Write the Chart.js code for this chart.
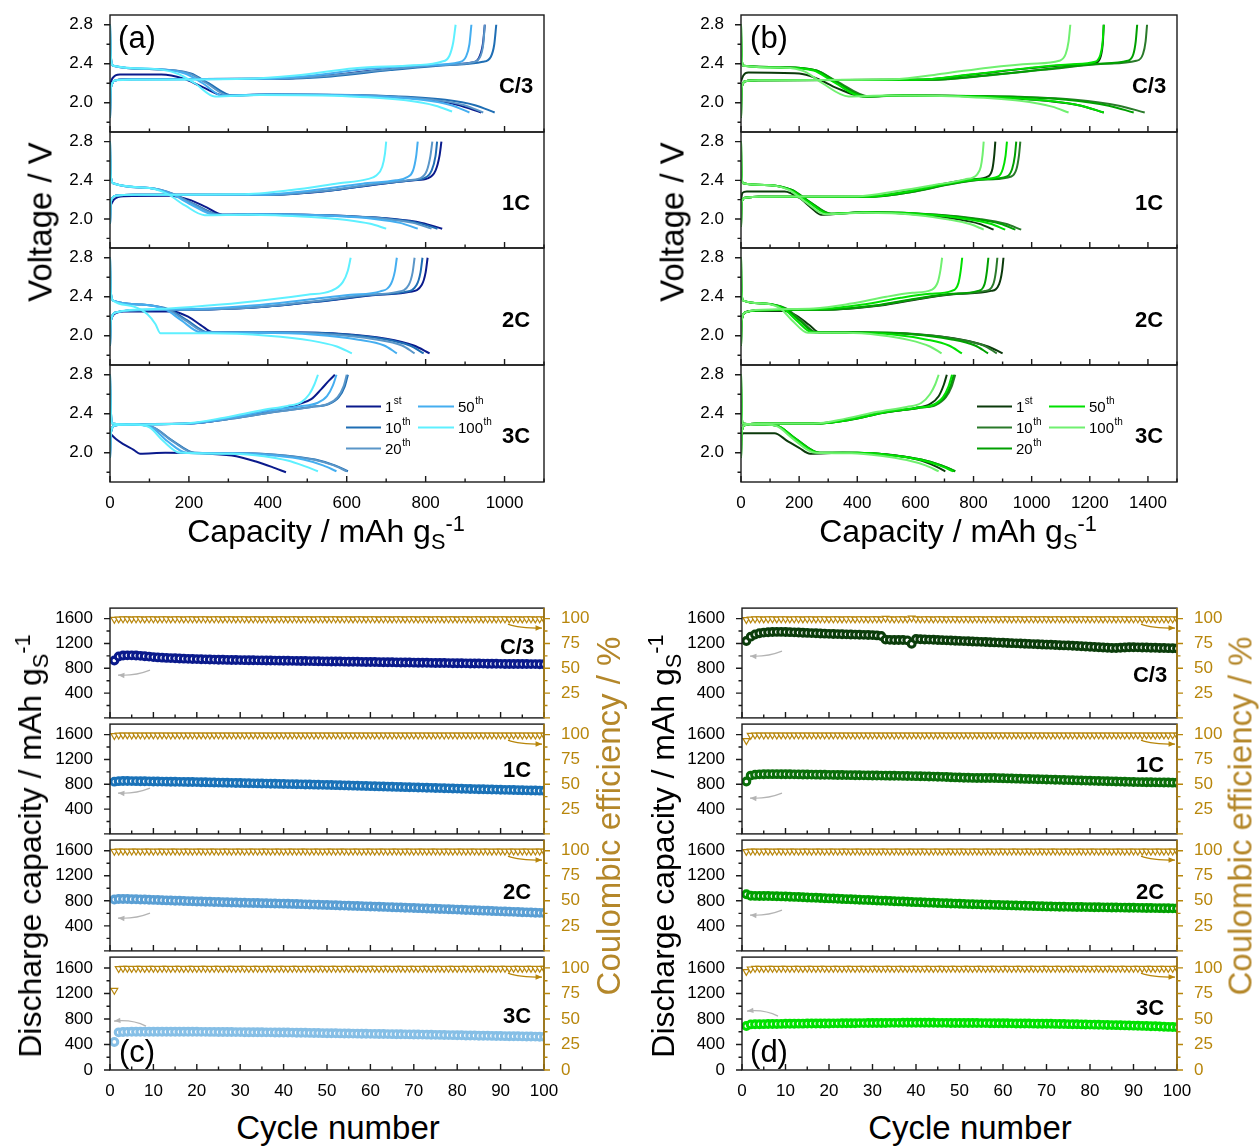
<!DOCTYPE html>
<html>
<head>
<meta charset="utf-8">
<script src="https://cdn.jsdelivr.net/npm/chart.js@4.4.1/dist/chart.umd.min.js"></script>
<style>
body { margin: 0; background: #fff; }
#fig { position: relative; width: 1260px; height: 1147px; overflow: hidden; font-family: Arial, "Liberation Sans", Helvetica, sans-serif; }
#fig canvas { position: absolute; }
.t { position: absolute; white-space: nowrap; color: #000; line-height: 1; transform: translate(-50%, -50%); }
.rot { transform: translate(-50%, -50%) rotate(-90deg); }
.t sub, .t sup { font-size: 0.68em; vertical-align: baseline; position: relative; }
.t sub { top: 0.32em; }
.t sup { top: -0.5em; }
</style>
</head>
<body>
<div id="fig"></div>
<script>
const FONT = 'Arial, "Liberation Sans", Helvetica, sans-serif';
const GOLD = '#b8860b';

// ---- tick values ----
const capTicksA = [0, 200, 400, 600, 800, 1000];
const capMinorA = [100, 300, 500, 700, 900, 1100];
const capTicksB = [0, 200, 400, 600, 800, 1000, 1200, 1400];
const capMinorB = [100, 300, 500, 700, 900, 1100, 1300, 1500];
const voltTicks = [2.0, 2.4, 2.8];
const voltMinor = [1.8, 2.2, 2.6];
const cycleTicks = [0, 10, 20, 30, 40, 50, 60, 70, 80, 90, 100];
const cycleMinor = [5, 15, 25, 35, 45, 55, 65, 75, 85, 95];
const dcTicksUpper = [400, 800, 1200, 1600];
const dcTicksLow = [0, 400, 800, 1200, 1600];
const dcMinor = [200, 600, 1000, 1400];
const ceTicksUpper = [25, 50, 75, 100];
const ceTicksLow = [0, 25, 50, 75, 100];
const ceMinor = [12.5, 37.5, 62.5, 87.5];
const rates = ['C/3', '1C', '2C', '3C'];
const cycleNum = ['1', '10', '20', '50', '100'];
const cycleSuf = ['st', 'th', 'th', 'th', 'th'];

// ---- colours ----
const blues = ['#0a1a8c', '#1f6eb4', '#5a96c8', '#45aef0', '#5ef0ff'];
const greens = ['#0b3a0b', '#2a7a2a', '#00a000', '#00e000', '#70f070'];
const blueRates = ['#0a1a8c', '#1a72b8', '#5a9fd4', '#86bfe6'];
const greenRates = ['#0b3d0b', '#0a6e0a', '#00a000', '#00e000'];

// ---- (a) voltage profiles [capacity, V]; order 1st,10th,20th,50th,100th ----
const aC3Dis = [
  [[0,2.18],[6,2.25],[25,2.29],[130,2.29],[185,2.25],[235,2.16],[290,2.075],[400,2.085],[650,2.07],[800,2.035],[880,1.98],[941,1.9]],
  [[0,2.8],[2,2.48],[8,2.38],[100,2.345],[205,2.3],[250,2.2],[310,2.075],[420,2.085],[700,2.07],[850,2.03],[925,1.975],[975,1.9]],
  [[0,2.8],[2,2.48],[8,2.38],[100,2.345],[200,2.3],[245,2.2],[300,2.075],[410,2.085],[680,2.07],[820,2.03],[898,1.975],[946,1.9]],
  [[0,2.8],[2,2.48],[8,2.38],[100,2.35],[190,2.3],[235,2.2],[285,2.075],[400,2.085],[650,2.07],[790,2.03],[865,1.975],[911,1.9]],
  [[0,2.8],[2,2.48],[8,2.38],[100,2.35],[170,2.3],[215,2.2],[266,2.065],[380,2.08],[610,2.065],[750,2.025],[825,1.97],[867,1.91]]
];
const aC3Chg = [
  [[0,1.85],[2,2.15],[15,2.23],[60,2.24],[400,2.245],[530,2.27],[680,2.335],[820,2.385],[915,2.41],[935,2.46],[945,2.6],[950,2.8]],
  [[0,1.85],[2,2.15],[15,2.23],[60,2.24],[420,2.245],[560,2.27],[710,2.335],[850,2.385],[945,2.42],[965,2.47],[974,2.6],[979,2.8]],
  [[0,1.85],[2,2.15],[15,2.23],[60,2.24],[400,2.245],[530,2.27],[690,2.335],[830,2.385],[920,2.415],[938,2.47],[946,2.6],[950,2.8]],
  [[0,1.85],[2,2.15],[15,2.23],[60,2.24],[380,2.245],[500,2.275],[650,2.345],[800,2.385],[885,2.415],[902,2.47],[911,2.6],[916,2.8]],
  [[0,1.85],[2,2.15],[15,2.23],[60,2.235],[340,2.245],[470,2.28],[620,2.355],[770,2.385],[840,2.42],[860,2.48],[870,2.62],[876,2.8]]
];
const a1CDis = [
  [[0,2.13],[10,2.2],[35,2.235],[150,2.24],[200,2.2],[245,2.12],[285,2.045],[400,2.05],[600,2.03],[720,2.0],[790,1.96],[842,1.9]],
  [[0,2.8],[2,2.45],[8,2.37],[100,2.32],[160,2.26],[215,2.15],[280,2.045],[400,2.05],[600,2.03],[710,2.0],[780,1.96],[830,1.9]],
  [[0,2.8],[2,2.45],[8,2.37],[100,2.32],[160,2.26],[212,2.15],[275,2.045],[390,2.05],[590,2.03],[700,2.0],[768,1.96],[815,1.9]],
  [[0,2.8],[2,2.45],[8,2.37],[100,2.32],[155,2.26],[205,2.15],[265,2.045],[380,2.05],[570,2.03],[670,2.0],[735,1.96],[780,1.9]],
  [[0,2.8],[2,2.45],[8,2.37],[100,2.32],[145,2.26],[190,2.14],[240,2.04],[350,2.045],[510,2.02],[600,1.99],[660,1.95],[700,1.9]]
];
const a1CChg = [
  [[0,1.95],[2,2.18],[15,2.24],[60,2.25],[400,2.25],[550,2.29],[680,2.36],[770,2.4],[805,2.42],[825,2.5],[835,2.65],[840,2.8]],
  [[0,1.95],[2,2.18],[15,2.24],[60,2.25],[400,2.25],[545,2.29],[675,2.36],[765,2.4],[795,2.42],[815,2.5],[825,2.65],[829,2.8]],
  [[0,1.95],[2,2.18],[15,2.24],[60,2.25],[390,2.25],[535,2.29],[665,2.36],[755,2.4],[785,2.42],[803,2.5],[812,2.65],[817,2.8]],
  [[0,1.95],[2,2.18],[15,2.24],[60,2.25],[370,2.25],[510,2.295],[640,2.365],[725,2.4],[752,2.43],[768,2.5],[776,2.65],[780,2.8]],
  [[0,1.95],[2,2.18],[15,2.24],[60,2.25],[330,2.255],[460,2.3],[580,2.37],[650,2.41],[675,2.45],[690,2.54],[697,2.68],[700,2.8]]
];
const a2CDis = [
  [[0,2.15],[10,2.22],[35,2.25],[160,2.25],[200,2.19],[230,2.11],[262,2.035],[400,2.035],[580,2.02],[700,1.97],[770,1.9],[810,1.82]],
  [[0,2.8],[2,2.45],[8,2.36],[80,2.32],[150,2.27],[195,2.16],[250,2.035],[400,2.035],[570,2.02],[690,1.97],[760,1.9],[795,1.82]],
  [[0,2.8],[2,2.45],[8,2.36],[80,2.32],[145,2.27],[190,2.16],[245,2.035],[390,2.035],[550,2.015],[670,1.965],[740,1.9],[772,1.82]],
  [[0,2.8],[2,2.45],[8,2.36],[80,2.32],[140,2.27],[180,2.16],[230,2.035],[380,2.03],[520,2.01],[630,1.96],[695,1.9],[727,1.82]],
  [[0,2.8],[2,2.45],[8,2.36],[60,2.3],[95,2.22],[115,2.12],[128,2.025],[250,2.025],[400,2.0],[510,1.95],[575,1.89],[613,1.82]]
];
const a2CChg = [
  [[0,1.9],[2,2.15],[15,2.24],[50,2.26],[250,2.27],[400,2.3],[550,2.36],[680,2.42],[760,2.45],[790,2.52],[800,2.65],[805,2.8]],
  [[0,1.9],[2,2.15],[15,2.24],[50,2.26],[250,2.27],[400,2.3],[545,2.36],[670,2.42],[748,2.45],[777,2.52],[787,2.65],[792,2.8]],
  [[0,1.9],[2,2.15],[15,2.24],[50,2.26],[240,2.27],[390,2.3],[530,2.36],[650,2.42],[728,2.45],[757,2.52],[767,2.65],[772,2.8]],
  [[0,1.9],[2,2.15],[15,2.24],[50,2.26],[220,2.275],[360,2.31],[500,2.37],[610,2.42],[685,2.455],[712,2.53],[722,2.66],[727,2.8]],
  [[0,1.9],[2,2.15],[15,2.24],[50,2.265],[150,2.28],[280,2.32],[400,2.37],[500,2.42],[560,2.46],[590,2.55],[603,2.67],[610,2.8]]
];
const a3CDis = [
  [[0,2.2],[15,2.14],[35,2.085],[60,2.03],[76,1.99],[140,2.0],[250,1.99],[320,1.965],[370,1.91],[410,1.855],[446,1.8]],
  [[0,2.8],[2,2.45],[6,2.3],[60,2.29],[110,2.26],[160,2.12],[215,2.0],[350,1.995],[450,1.97],[520,1.93],[570,1.87],[603,1.81]],
  [[0,2.8],[2,2.45],[6,2.3],[60,2.29],[110,2.26],[158,2.12],[212,2.0],[345,1.995],[445,1.97],[515,1.93],[567,1.87],[600,1.81]],
  [[0,2.8],[2,2.45],[6,2.3],[60,2.29],[105,2.26],[145,2.12],[194,2.0],[330,1.995],[420,1.97],[490,1.93],[540,1.87],[574,1.81]],
  [[0,2.8],[2,2.45],[6,2.3],[60,2.29],[100,2.26],[135,2.12],[177,2.0],[310,1.99],[390,1.965],[450,1.92],[495,1.86],[527,1.81]]
];
const a3CChg = [
  [[0,1.95],[2,2.2],[12,2.28],[60,2.295],[200,2.3],[300,2.35],[400,2.43],[480,2.5],[510,2.55],[535,2.65],[555,2.74],[570,2.8]],
  [[0,1.95],[2,2.2],[12,2.28],[60,2.29],[200,2.3],[310,2.35],[420,2.42],[510,2.47],[555,2.5],[580,2.57],[595,2.68],[603,2.8]],
  [[0,1.95],[2,2.2],[12,2.28],[60,2.29],[200,2.3],[310,2.35],[420,2.42],[510,2.47],[552,2.5],[577,2.57],[592,2.68],[600,2.8]],
  [[0,1.95],[2,2.2],[12,2.28],[60,2.29],[200,2.3],[300,2.355],[400,2.43],[480,2.475],[525,2.51],[550,2.58],[565,2.69],[574,2.8]],
  [[0,1.95],[2,2.2],[12,2.28],[60,2.29],[190,2.3],[290,2.36],[390,2.44],[450,2.48],[485,2.52],[505,2.6],[518,2.7],[527,2.8]]
];

// ---- (b) voltage profiles ----
const bC3Dis = [
  [[0,2.22],[8,2.28],[25,2.31],[200,2.3],[260,2.25],[330,2.15],[420,2.065],[550,2.075],[850,2.06],[1050,2.02],[1170,1.97],[1248,1.9]],
  [[0,2.8],[2,2.48],[8,2.38],[150,2.365],[260,2.33],[330,2.22],[440,2.065],[560,2.075],[900,2.065],[1150,2.03],[1300,1.97],[1389,1.9]],
  [[0,2.8],[2,2.48],[8,2.38],[150,2.365],[260,2.33],[325,2.22],[430,2.065],[550,2.075],[880,2.065],[1120,2.03],[1265,1.97],[1351,1.9]],
  [[0,2.8],[2,2.48],[8,2.38],[150,2.36],[250,2.33],[315,2.22],[420,2.065],[540,2.075],[850,2.06],[1040,2.025],[1170,1.97],[1248,1.9]],
  [[0,2.8],[2,2.48],[8,2.38],[150,2.36],[220,2.32],[280,2.2],[370,2.065],[500,2.075],[780,2.06],[960,2.02],[1070,1.96],[1127,1.9]]
];
const bC3Chg = [
  [[0,1.85],[2,2.15],[15,2.22],[60,2.23],[600,2.235],[800,2.29],[980,2.35],[1150,2.39],[1220,2.41],[1238,2.48],[1245,2.62],[1248,2.8]],
  [[0,1.85],[2,2.15],[15,2.22],[60,2.23],[650,2.235],[850,2.28],[1050,2.34],[1250,2.4],[1360,2.43],[1383,2.5],[1392,2.63],[1397,2.8]],
  [[0,1.85],[2,2.15],[15,2.22],[60,2.23],[640,2.235],[840,2.28],[1040,2.34],[1230,2.4],[1330,2.43],[1350,2.5],[1358,2.63],[1363,2.8]],
  [[0,1.85],[2,2.15],[15,2.22],[60,2.23],[600,2.235],[790,2.29],[970,2.35],[1140,2.395],[1218,2.42],[1236,2.49],[1244,2.62],[1248,2.8]],
  [[0,1.85],[2,2.15],[15,2.22],[60,2.23],[520,2.24],[700,2.3],[850,2.36],[1000,2.4],[1095,2.43],[1117,2.5],[1127,2.63],[1133,2.8]]
];
const b1CDis = [
  [[0,2.2],[5,2.27],[20,2.285],[150,2.285],[200,2.22],[240,2.12],[275,2.045],[420,2.07],[620,2.045],[740,2.0],[820,1.95],[869,1.89]],
  [[0,2.8],[2,2.45],[8,2.37],[100,2.35],[175,2.3],[240,2.17],[310,2.055],[440,2.07],[680,2.045],[820,2.0],[910,1.95],[964,1.89]],
  [[0,2.8],[2,2.45],[8,2.37],[100,2.35],[175,2.3],[240,2.17],[308,2.055],[440,2.07],[670,2.045],[805,2.0],[892,1.95],[944,1.89]],
  [[0,2.8],[2,2.45],[8,2.37],[100,2.35],[170,2.3],[235,2.17],[300,2.055],[430,2.07],[650,2.045],[775,2.0],[858,1.95],[909,1.89]],
  [[0,2.8],[2,2.45],[8,2.37],[100,2.35],[165,2.3],[225,2.17],[290,2.05],[420,2.065],[610,2.04],[715,1.995],[790,1.945],[835,1.89]]
];
const b1CChg = [
  [[0,1.92],[2,2.17],[15,2.22],[60,2.23],[430,2.23],[580,2.29],[690,2.36],[800,2.41],[850,2.44],[865,2.52],[871,2.65],[875,2.8]],
  [[0,1.92],[2,2.17],[15,2.22],[60,2.23],[440,2.23],[600,2.285],[720,2.36],[850,2.41],[930,2.44],[948,2.52],[956,2.65],[961,2.8]],
  [[0,1.92],[2,2.17],[15,2.22],[60,2.23],[440,2.23],[595,2.285],[715,2.36],[840,2.41],[915,2.44],[933,2.52],[942,2.65],[947,2.8]],
  [[0,1.92],[2,2.17],[15,2.22],[60,2.23],[430,2.23],[585,2.29],[700,2.36],[820,2.41],[885,2.44],[901,2.52],[910,2.65],[915,2.8]],
  [[0,1.92],[2,2.17],[15,2.22],[60,2.23],[400,2.235],[540,2.29],[660,2.35],[770,2.41],[812,2.46],[825,2.54],[831,2.66],[835,2.8]]
];
const b2CDis = [
  [[0,2.15],[8,2.22],[30,2.255],[150,2.255],[195,2.2],[235,2.11],[272,2.03],[420,2.03],[620,2.01],[760,1.96],[850,1.89],[900,1.82]],
  [[0,2.8],[2,2.45],[8,2.36],[80,2.33],[155,2.28],[205,2.16],[260,2.035],[420,2.035],[610,2.015],[745,1.965],[835,1.9],[880,1.82]],
  [[0,2.8],[2,2.45],[8,2.36],[80,2.33],[150,2.28],[200,2.16],[255,2.035],[410,2.035],[590,2.015],[720,1.965],[805,1.9],[850,1.82]],
  [[0,2.8],[2,2.45],[8,2.36],[80,2.33],[145,2.28],[190,2.16],[245,2.035],[390,2.03],[530,2.01],[640,1.96],[715,1.9],[760,1.82]],
  [[0,2.8],[2,2.45],[8,2.36],[80,2.33],[135,2.28],[175,2.16],[230,2.03],[360,2.03],[480,2.005],[580,1.955],[650,1.89],[690,1.82]]
];
const b2CChg = [
  [[0,1.9],[2,2.15],[15,2.24],[50,2.26],[320,2.27],[480,2.31],[620,2.38],[750,2.43],[860,2.46],[888,2.53],[898,2.66],[903,2.8]],
  [[0,1.9],[2,2.15],[15,2.24],[50,2.26],[320,2.27],[470,2.31],[610,2.38],[740,2.43],[840,2.46],[868,2.53],[877,2.66],[882,2.8]],
  [[0,1.9],[2,2.15],[15,2.24],[50,2.26],[310,2.27],[460,2.31],[600,2.38],[725,2.43],[815,2.46],[838,2.53],[846,2.66],[851,2.8]],
  [[0,1.9],[2,2.15],[15,2.24],[50,2.26],[280,2.275],[420,2.32],[550,2.39],[650,2.43],[725,2.46],[748,2.54],[756,2.67],[761,2.8]],
  [[0,1.9],[2,2.15],[15,2.24],[50,2.265],[250,2.28],[380,2.33],[500,2.4],[590,2.44],[655,2.47],[677,2.55],[686,2.67],[692,2.8]]
];
const b3CDis = [
  [[0,2.17],[8,2.2],[115,2.2],[160,2.12],[200,2.05],[238,1.99],[350,2.0],[440,1.995],[540,1.97],[620,1.92],[670,1.86],[703,1.81]],
  [[0,2.8],[2,2.45],[6,2.3],[80,2.29],[130,2.27],[190,2.14],[272,2.0],[400,2.0],[520,1.975],[620,1.93],[690,1.87],[737,1.81]],
  [[0,2.8],[2,2.45],[6,2.3],[80,2.29],[130,2.27],[190,2.14],[270,2.0],[400,2.0],[520,1.975],[620,1.93],[690,1.87],[737,1.81]],
  [[0,2.8],[2,2.45],[6,2.3],[80,2.29],[130,2.27],[188,2.14],[268,2.0],[400,2.0],[515,1.975],[612,1.93],[682,1.87],[730,1.81]],
  [[0,2.8],[2,2.45],[6,2.3],[80,2.29],[125,2.27],[180,2.14],[255,2.0],[380,1.995],[480,1.97],[570,1.925],[635,1.87],[680,1.81]]
];
const b3CChg = [
  [[0,1.95],[2,2.2],[12,2.28],[60,2.3],[260,2.3],[370,2.34],[480,2.41],[600,2.46],[650,2.5],[680,2.58],[698,2.7],[708,2.8]],
  [[0,1.95],[2,2.2],[12,2.28],[60,2.3],[260,2.3],[380,2.34],[490,2.41],[610,2.46],[670,2.49],[705,2.57],[725,2.68],[737,2.8]],
  [[0,1.95],[2,2.2],[12,2.28],[60,2.3],[260,2.3],[380,2.34],[490,2.41],[610,2.46],[665,2.49],[700,2.57],[720,2.68],[732,2.8]],
  [[0,1.95],[2,2.2],[12,2.28],[60,2.3],[260,2.3],[375,2.34],[485,2.41],[600,2.46],[660,2.49],[695,2.57],[714,2.68],[726,2.8]],
  [[0,1.95],[2,2.2],[12,2.28],[60,2.3],[250,2.3],[360,2.35],[470,2.42],[570,2.47],[620,2.51],[650,2.6],[668,2.7],[680,2.8]]
];

// ---- (c) discharge capacity per cycle (1..100) ----
const cC3Cap = [925,990,1005,1008,1008,1005,1000,995,988,980,
  975,971,967,964,961,958,955,952,950,948,
  946,944,942,940,938,937,935,934,933,932,
  931,930,929,928,927,926,925,924,923,922,
  921,920,919,918,917,916,915,914,912,911,
  910,909,908,907,906,905,904,903,902,901,
  900,899,898,897,896,895,894,893,892,891,
  890,889,888,887,886,885,884,883,882,881,
  880,879,878,877,876,875,874,873,872,871,
  870,870,869,869,868,868,867,867,866,866];
const c1CCap = [842,850,852,852,851,850,849,848,847,845,
  844,843,842,841,840,839,838,837,836,835,
  833,832,830,829,827,826,824,823,821,820,
  818,817,815,814,812,811,809,808,806,805,
  803,802,800,799,797,796,794,793,791,790,
  788,786,784,782,780,778,776,774,772,770,
  768,766,764,762,760,758,756,754,752,750,
  748,746,744,742,740,738,736,734,732,730,
  728,726,724,722,720,719,717,715,714,712,
  710,709,707,705,704,702,700,699,697,695];
const c2CCap = [820,830,829,828,826,824,822,820,818,815,
  812,810,807,805,802,800,798,795,793,790,
  788,786,784,782,780,778,776,774,772,770,
  768,767,765,764,762,761,759,758,756,755,
  753,751,749,747,744,742,740,738,735,733,
  731,729,726,724,722,719,717,715,712,710,
  708,705,703,700,698,695,693,690,688,685,
  683,680,678,675,673,670,668,665,663,660,
  657,654,652,649,646,643,641,638,635,632,
  629,627,624,621,618,616,613,610,608,605];
const c3CCap = [440,590,596,598,599,600,600,600,600,600,
  600,600,600,600,600,600,600,599,599,599,
  598,598,597,597,596,596,595,595,594,594,
  593,593,592,592,591,590,590,589,588,588,
  587,586,585,584,583,582,581,580,578,577,
  576,575,574,573,572,571,570,569,568,567,
  566,565,564,563,562,561,560,559,558,557,
  556,555,554,552,551,550,549,547,546,545,
  544,542,541,540,538,537,536,535,533,532,
  531,530,529,528,527,526,525,524,522,520];

// ---- (d) discharge capacity per cycle ----
const dC3Cap = [1240,1310,1345,1365,1375,1380,1384,1386,1386,1385,
  1382,1379,1376,1373,1370,1367,1364,1361,1358,1355,
  1353,1351,1349,1347,1345,1343,1341,1339,1337,1335,
  1330,1320,1262,1258,1256,1256,1255,1250,1195,1272,
  1268,1265,1262,1259,1256,1253,1250,1247,1244,1241,
  1238,1235,1232,1229,1226,1223,1220,1217,1214,1211,
  1208,1205,1202,1199,1196,1193,1190,1187,1184,1181,
  1178,1175,1172,1169,1166,1163,1160,1156,1152,1148,
  1144,1140,1136,1132,1128,1127,1130,1135,1138,1138,
  1137,1136,1134,1132,1130,1128,1126,1124,1122,1120];
const d1CCap = [845,940,955,960,962,963,963,963,962,962,
  961,960,959,958,957,956,955,954,953,952,
  951,950,949,948,947,946,945,944,943,942,
  941,940,939,938,937,936,935,934,932,931,
  929,928,926,924,922,920,917,914,911,908,
  906,904,903,902,902,902,901,900,899,897,
  895,893,891,889,887,885,883,881,879,877,
  875,873,871,869,867,865,863,861,859,857,
  855,853,851,849,847,845,843,841,839,837,
  835,834,833,832,831,830,829,828,826,825];
const d2CCap = [905,880,879,878,877,876,875,873,871,869,
  866,863,860,857,854,851,848,845,842,839,
  836,833,830,827,824,821,818,815,812,809,
  806,803,800,797,794,791,788,785,782,779,
  776,773,771,768,766,763,761,758,756,753,
  751,748,746,744,741,739,737,735,733,731,
  729,727,725,723,721,719,717,715,713,711,
  709,708,706,705,704,703,702,701,700,699,
  698,697,696,695,694,693,692,691,690,689,
  688,687,686,685,684,683,682,681,680,678];
const d3CCap = [690,715,717,718,719,720,721,722,723,724,
  725,726,727,727,728,728,729,729,730,730,
  731,731,732,732,733,734,735,735,736,737,
  737,738,738,739,739,739,740,740,740,740,
  740,740,740,740,739,739,739,738,738,738,
  737,737,736,736,735,735,734,734,733,733,
  732,731,730,730,729,728,727,726,726,725,
  724,723,722,720,719,718,717,715,714,712,
  711,709,708,706,704,703,701,699,697,695,
  693,691,689,687,685,682,679,676,673,670];

// ---- coulombic efficiency per cycle (%) ----
const cC3CE = [99.2,99.6,99.7,99.7,99.6,99.7,99.7,99.6,99.7,99.7,
  99.6,99.7,99.7,99.6,99.7,99.7,99.6,99.7,99.7,99.6,
  99.7,99.7,99.6,99.7,99.7,99.6,99.7,99.7,99.6,99.7,
  99.7,99.6,99.7,99.7,99.6,99.7,99.7,99.6,99.7,99.7,
  99.6,99.7,99.7,99.6,99.7,99.7,99.6,99.7,99.7,99.6,
  99.7,99.7,99.6,99.7,99.7,99.6,99.7,99.7,99.6,99.7,
  99.7,99.6,99.7,99.7,99.6,99.7,99.7,99.6,99.7,99.7,
  99.6,99.7,99.7,99.6,99.7,99.7,99.6,99.7,99.7,99.6,
  99.7,99.7,99.6,99.7,99.7,99.6,99.7,99.7,99.6,99.7,
  99.7,99.6,99.7,99.7,99.6,99.7,99.7,99.6,99.7,99.6];
const c1CCE = [99.0,99.5,99.6,99.6,99.5,99.6,99.6,99.5,99.6,99.6,
  99.5,99.6,99.6,99.5,99.6,99.6,99.5,99.6,99.6,99.5,
  99.6,99.6,99.5,99.6,99.6,99.5,99.6,99.6,99.5,99.6,
  99.6,99.5,99.6,99.6,99.5,99.6,99.6,99.5,99.6,99.6,
  99.5,99.6,99.6,99.5,99.6,99.6,99.5,99.6,99.6,99.5,
  99.6,99.6,99.5,99.6,99.6,99.5,99.6,99.6,99.5,99.6,
  99.6,99.5,99.6,99.6,99.5,99.6,99.6,99.5,99.6,99.6,
  99.5,99.6,99.6,99.5,99.6,99.6,99.5,99.6,99.6,99.5,
  99.6,99.6,99.5,99.6,99.6,99.5,99.6,99.6,99.5,99.6,
  99.6,99.5,99.6,99.6,99.5,99.6,99.6,99.5,99.6,99.5];
const c2CCE = [99.3,99.6,99.6,99.5,99.6,99.6,99.5,99.6,99.6,99.5,
  99.6,99.6,99.5,99.6,99.6,99.5,99.6,99.6,99.5,99.6,
  99.6,99.5,99.6,99.6,99.5,99.6,99.6,99.5,99.6,99.6,
  99.5,99.6,99.6,99.5,99.6,99.6,99.5,99.6,99.6,99.5,
  99.6,99.6,99.5,99.6,99.6,99.5,99.6,99.6,99.5,99.6,
  99.6,99.5,99.6,99.6,99.5,99.6,99.6,99.5,99.6,99.6,
  99.5,99.6,99.6,99.5,99.6,99.6,99.5,99.6,99.6,99.5,
  99.6,99.6,99.5,99.6,99.6,99.5,99.6,99.6,99.5,99.6,
  99.6,99.5,99.6,99.6,99.5,99.6,99.6,99.5,99.6,99.6,
  99.5,99.6,99.6,99.5,99.6,99.6,99.5,99.6,99.6,99.5];
const c3CCE = [78.0,99.4,99.6,99.6,99.5,99.6,99.6,99.5,99.6,99.6,
  99.5,99.6,99.6,99.5,99.6,99.6,99.5,99.6,99.6,99.5,
  99.6,99.6,99.5,99.6,99.6,99.5,99.6,99.6,99.5,99.6,
  99.6,99.5,99.6,99.6,99.5,99.6,99.6,99.5,99.6,99.6,
  99.5,99.6,99.6,99.5,99.6,99.6,99.5,99.6,99.6,99.5,
  99.6,99.6,99.5,99.6,99.6,99.5,99.6,99.6,99.5,99.6,
  99.6,99.5,99.6,99.6,99.5,99.6,99.6,99.5,99.6,99.6,
  99.5,99.6,99.6,99.5,99.6,99.6,99.5,99.6,99.6,99.5,
  99.6,99.6,99.5,99.6,99.6,99.5,99.6,99.6,99.5,99.6,
  99.6,99.5,99.6,99.6,99.5,99.6,99.6,99.5,99.6,99.6];
const dC3CE = [99.0,99.6,99.7,99.7,99.6,99.7,99.7,99.6,99.7,99.7,
  99.6,99.7,99.7,99.6,99.7,99.7,99.6,99.7,99.7,99.6,
  99.7,99.7,99.6,99.7,99.7,99.6,99.7,99.7,99.6,99.7,
  99.7,99.6,100.3,99.7,99.6,99.7,99.7,99.6,100.6,99.7,
  99.6,99.7,99.7,99.6,99.7,99.7,99.6,99.7,99.7,99.6,
  99.7,99.7,99.6,99.7,99.7,99.6,99.7,99.7,99.6,99.7,
  99.7,99.6,99.7,99.7,99.6,99.7,99.7,99.6,99.7,99.7,
  99.6,99.7,99.7,99.6,99.7,99.7,99.6,99.7,99.7,99.6,
  99.7,99.7,99.6,99.7,99.7,99.6,99.7,99.7,99.6,99.7,
  99.7,99.6,99.7,99.7,99.6,99.7,99.7,99.6,99.7,99.6];
const d1CCE = [94.0,99.3,99.6,99.6,99.5,99.6,99.6,99.5,99.6,99.6,
  99.5,99.6,99.6,99.5,99.6,99.6,99.5,99.6,99.6,99.5,
  99.6,99.6,99.5,99.6,99.6,99.5,99.6,99.6,99.5,99.6,
  99.6,99.5,99.6,99.6,99.5,99.6,99.6,99.5,99.6,99.6,
  99.5,99.6,99.6,99.5,99.6,99.6,99.5,99.6,99.6,99.5,
  99.6,99.6,99.5,99.6,99.6,99.5,99.6,99.6,99.5,99.6,
  99.6,99.5,99.6,99.6,99.5,99.6,99.6,99.5,99.6,99.6,
  99.5,99.6,99.6,99.5,99.6,99.6,99.5,99.6,99.6,99.5,
  99.6,99.6,99.5,99.6,99.6,99.5,99.6,99.6,99.5,99.6,
  99.6,99.5,99.6,99.6,99.5,99.6,99.6,99.5,99.6,99.5];
const d2CCE = [99.2,99.6,99.6,99.5,99.6,99.6,99.5,99.6,99.6,99.5,
  99.6,99.6,99.5,99.6,99.6,99.5,99.6,99.6,99.5,99.6,
  99.6,99.5,99.6,99.6,99.5,99.6,99.6,99.5,99.6,99.6,
  99.5,99.6,99.6,99.5,99.6,99.6,99.5,99.6,99.6,99.5,
  99.6,99.6,99.5,99.6,99.6,99.5,99.6,99.6,99.5,99.6,
  99.6,99.5,99.6,99.6,99.5,99.6,99.6,99.5,99.6,99.6,
  99.5,99.6,99.6,99.5,99.6,99.6,99.5,99.6,99.6,99.5,
  99.6,99.6,99.5,99.6,99.6,99.5,99.6,99.6,99.5,99.6,
  99.6,99.5,99.6,99.6,99.5,99.6,99.6,99.5,99.6,99.6,
  99.5,99.6,99.6,99.5,99.6,99.6,99.5,99.6,99.6,99.5];
const d3CCE = [96.5,99.0,99.6,99.6,99.5,99.6,99.6,99.5,99.6,99.6,
  99.5,99.6,99.6,99.5,99.6,99.6,99.5,99.6,99.6,99.5,
  99.6,99.6,99.5,99.6,99.6,99.5,99.6,99.6,99.5,99.6,
  99.6,99.5,99.6,99.6,99.5,99.6,99.6,99.5,99.6,99.6,
  99.5,99.6,99.6,99.5,99.6,99.6,99.5,99.6,99.6,99.5,
  99.6,99.6,99.5,99.6,99.6,99.5,99.6,99.6,99.5,99.6,
  99.6,99.5,99.6,99.6,99.5,99.6,99.6,99.5,99.6,99.6,
  99.5,99.6,99.6,99.5,99.6,99.6,99.5,99.6,99.6,99.5,
  99.6,99.6,99.5,99.6,99.6,99.5,99.6,99.6,99.5,99.6,
  99.6,99.5,99.6,99.6,99.5,99.6,99.6,99.5,99.6,99.6];

const cycleNo = Array.from({ length: 100 }, (_, i) => i + 1);

// ---- layout ----
const fig = document.getElementById('fig');
const topsAB = [15, 132, 248, 365], hAB = [117, 116, 117, 117];
const topsCD = [605, 721, 837, 954], hCD = [116, 116, 117, 116];
const PA = { left: 110, width: 434 }, PB = { left: 741, width: 436 };
const PC = { left: 110, width: 434 }, PD = { left: 742, width: 435 };

function addCanvas(left, top, w, h) {
  const c = document.createElement('canvas');
  c.width = w; c.height = h;
  c.style.left = left + 'px'; c.style.top = top + 'px';
  c.style.width = w + 'px'; c.style.height = h + 'px';
  fig.appendChild(c);
  return c;
}

function addText(html, x, y, size, opts) {
  const d = document.createElement('div');
  d.className = 't' + (opts && opts.rot ? ' rot' : '');
  d.innerHTML = html;
  d.style.left = x + 'px'; d.style.top = y + 'px';
  d.style.fontSize = size + 'px';
  if (opts && opts.bold) d.style.fontWeight = 'bold';
  if (opts && opts.color) d.style.color = opts.color;
  fig.appendChild(d);
}

function drawArrow(ctx, p, color) {
  const [x1, y1, cx, cy, x2, y2] = p;
  ctx.strokeStyle = color; ctx.fillStyle = color; ctx.lineWidth = 1.2;
  ctx.beginPath(); ctx.moveTo(x1, y1); ctx.quadraticCurveTo(cx, cy, x2, y2); ctx.stroke();
  const ang = Math.atan2(y2 - cy, x2 - cx);
  ctx.beginPath(); ctx.moveTo(x2, y2);
  ctx.lineTo(x2 - 7 * Math.cos(ang - 0.4), y2 - 7 * Math.sin(ang - 0.4));
  ctx.lineTo(x2 - 7 * Math.cos(ang + 0.4), y2 - 7 * Math.sin(ang + 0.4));
  ctx.closePath(); ctx.fill();
}

// frame, inward/outward ticks, small arrows and the cycle legend
function makeFrame(f) {
  return {
    id: 'frame',
    afterDraw(chart) {
      const ctx = chart.ctx, a = chart.chartArea;
      const sx = chart.scales.x, sy = chart.scales.y, sr = chart.scales.y2;
      ctx.save();
      ctx.lineWidth = 1.4; ctx.strokeStyle = '#1a1a1a';
      ctx.strokeRect(a.left, a.top, a.right - a.left, a.bottom - a.top);
      ctx.beginPath();
      f.yMajor.forEach(v => { const p = sy.getPixelForValue(v); ctx.moveTo(a.left, p); ctx.lineTo(a.left - 6, p); });
      f.yMinor.forEach(v => { const p = sy.getPixelForValue(v); ctx.moveTo(a.left, p); ctx.lineTo(a.left - 3.5, p); });
      f.xMajor.forEach(v => { const p = sx.getPixelForValue(v); ctx.moveTo(p, a.bottom); ctx.lineTo(p, a.bottom - 6); });
      f.xMinor.forEach(v => { const p = sx.getPixelForValue(v); ctx.moveTo(p, a.bottom); ctx.lineTo(p, a.bottom - 3.5); });
      ctx.stroke();
      if (sr) {
        ctx.strokeStyle = GOLD; ctx.beginPath();
        ctx.moveTo(a.right, a.top); ctx.lineTo(a.right, a.bottom);
        f.rMajor.forEach(v => { const p = sr.getPixelForValue(v); ctx.moveTo(a.right, p); ctx.lineTo(a.right + 6, p); });
        f.rMinor.forEach(v => { const p = sr.getPixelForValue(v); ctx.moveTo(a.right, p); ctx.lineTo(a.right + 3.5, p); });
        ctx.stroke();
      }
      if (f.grayArrow) {
        const g = f.grayArrow;
        drawArrow(ctx, [a.left + g[0], a.top + g[1], a.left + g[2], a.top + g[3], a.left + g[4], a.top + g[5]], '#b4b4b4');
      }
      if (f.goldArrow) {
        const g = f.goldArrow;
        drawArrow(ctx, [a.right + g[0], a.top + g[1], a.right + g[2], a.top + g[3], a.right + g[4], a.top + g[5]], GOLD);
      }
      if (f.legend) {
        const rows = [41.5, 62.5, 83.5];
        const slots = [[0, 0], [0, 1], [0, 2], [1, 0], [1, 1]];
        const cols = [[236, 271, 275], [308, 344, 348]];
        slots.forEach((s, i) => {
          const col = cols[s[0]], y = a.top + rows[s[1]];
          ctx.strokeStyle = f.legend[i]; ctx.lineWidth = 2.2;
          ctx.beginPath(); ctx.moveTo(a.left + col[0], y); ctx.lineTo(a.left + col[1], y); ctx.stroke();
          ctx.fillStyle = '#000'; ctx.textBaseline = 'middle'; ctx.textAlign = 'left';
          ctx.font = '15px ' + FONT;
          ctx.fillText(cycleNum[i], a.left + col[2], y + 1);
          const w = ctx.measureText(cycleNum[i]).width;
          ctx.font = '10px ' + FONT;
          ctx.fillText(cycleSuf[i], a.left + col[2] + w + 0.5, y - 5);
        });
      }
      ctx.restore();
    }
  };
}

const tickFont = { family: FONT, size: 17 };

function fixed(list) { return ax => { ax.ticks = list.map(v => ({ value: v })); }; }
function fitX(h) { return ax => { ax.height = h; ax.paddingLeft = 0; ax.paddingRight = 0; ax.paddingTop = 0; ax.paddingBottom = 0; }; }
function fitY(w) { return ax => { ax.width = w; ax.paddingTop = 0; ax.paddingBottom = 0; ax.paddingLeft = 0; ax.paddingRight = 0; }; }

// voltage profile subplot
function cdChart(P, row, dis, chg, colors, xMax, xMaj, xMin, withLegend) {
  const bottom = row === 3;
  const padL = 60, padR = 12, padT = 4, padB = bottom ? 34 : 4;
  const top = topsAB[row], h = hAB[row];
  const cv = addCanvas(P.left - padL, top - padT, P.width + padL + padR, h + padT + padB);
  const datasets = [];
  for (let i = 0; i < 5; i++) {
    [dis[i], chg[i]].forEach(d => datasets.push({
      data: d, borderColor: colors[i], borderWidth: 2, pointRadius: 0,
      cubicInterpolationMode: 'monotone', tension: 0.4, fill: false, order: 4 - i
    }));
  }
  new Chart(cv, {
    type: 'line',
    data: { datasets },
    options: {
      responsive: false, animation: false, events: [],
      layout: { padding: { top: padT, right: padR, left: 0, bottom: 0 } },
      plugins: { legend: { display: false }, tooltip: { enabled: false } },
      scales: {
        x: {
          type: 'linear', min: 0, max: xMax,
          grid: { display: false }, border: { display: false },
          ticks: { display: bottom, font: tickFont, color: '#000', padding: 3, autoSkip: false, maxRotation: 0, callback: v => String(v) },
          afterBuildTicks: fixed(xMaj),
          afterFit: fitX(padB)
        },
        y: {
          type: 'linear', min: 1.7, max: 2.9,
          grid: { display: false }, border: { display: false },
          ticks: { font: tickFont, color: '#000', padding: 9, callback: v => Number(v).toFixed(1) },
          afterBuildTicks: fixed(voltTicks),
          afterFit: fitY(padL)
        }
      }
    },
    plugins: [makeFrame({
      xMajor: xMaj, xMinor: xMin, yMajor: voltTicks, yMinor: voltMinor,
      legend: withLegend ? colors : null
    })]
  });
}

// cycling subplot
function cycleChart(P, row, cap, ce, color, grayArrow, goldArrow) {
  const bottom = row === 3;
  const padL = 60, padR = 60, padT = 4, padB = bottom ? 34 : 4;
  const top = topsCD[row], h = hCD[row];
  const cv = addCanvas(P.left - padL, top - padT, P.width + padL + padR, h + padT + padB);
  new Chart(cv, {
    type: 'line',
    data: {
      labels: cycleNo,
      datasets: [
        { data: cap, yAxisID: 'y', showLine: false, borderColor: color, backgroundColor: '#fff',
          pointRadius: 3.4, pointBorderWidth: 3.1, order: 1 },
        { data: ce, yAxisID: 'y2', showLine: false, borderColor: GOLD, backgroundColor: '#fff',
          pointStyle: 'triangle', pointRotation: 180, pointRadius: 3.9, pointBorderWidth: 1.2, order: 0 }
      ]
    },
    options: {
      responsive: false, animation: false, events: [],
      layout: { padding: { top: padT, right: 0, left: 0, bottom: 0 } },
      plugins: { legend: { display: false }, tooltip: { enabled: false } },
      scales: {
        x: {
          type: 'linear', min: 0, max: 100,
          grid: { display: false }, border: { display: false },
          ticks: { display: bottom, font: tickFont, color: '#000', padding: 3, autoSkip: false, maxRotation: 0, callback: v => String(v) },
          afterBuildTicks: fixed(cycleTicks),
          afterFit: fitX(padB)
        },
        y: {
          type: 'linear', position: 'left', min: 0, max: 1770,
          grid: { display: false }, border: { display: false },
          ticks: { font: tickFont, color: '#000', padding: 9, callback: v => String(v) },
          afterBuildTicks: fixed(bottom ? dcTicksLow : dcTicksUpper),
          afterFit: fitY(padL)
        },
        y2: {
          type: 'linear', position: 'right', min: 0, max: 110.6,
          grid: { display: false }, border: { display: false },
          ticks: { font: tickFont, color: GOLD, padding: 9, callback: v => String(v) },
          afterBuildTicks: fixed(bottom ? ceTicksLow : ceTicksUpper),
          afterFit: fitY(padR)
        }
      }
    },
    plugins: [makeFrame({
      xMajor: cycleTicks, xMinor: cycleMinor,
      yMajor: dcTicksLow, yMinor: dcMinor,
      rMajor: ceTicksLow, rMinor: ceMinor,
      grayArrow, goldArrow
    })]
  });
}

// ---- panels (a) and (b) ----
const aDis = [aC3Dis, a1CDis, a2CDis, a3CDis], aChg = [aC3Chg, a1CChg, a2CChg, a3CChg];
const bDis = [bC3Dis, b1CDis, b2CDis, b3CDis], bChg = [bC3Chg, b1CChg, b2CChg, b3CChg];
for (let r = 0; r < 4; r++) {
  cdChart(PA, r, aDis[r], aChg[r], blues, 1100, capTicksA, capMinorA, r === 3);
  cdChart(PB, r, bDis[r], bChg[r], greens, 1500, capTicksB, capMinorB, r === 3);
}

// ---- panels (c) and (d) ----
const cCaps = [cC3Cap, c1CCap, c2CCap, c3CCap], cCEs = [cC3CE, c1CCE, c2CCE, c3CCE];
const dCaps = [dC3Cap, d1CCap, d2CCap, d3CCap], dCEs = [dC3CE, d1CCE, d2CCE, d3CCE];
const cGray = [[40, 62, 25, 68, 8, 67], [40, 64, 25, 70, 8, 69], [40, 73, 25, 79, 8, 78], [36, 69, 22, 62, 4, 64]];
const dGray = [[40, 43, 25, 49, 8, 48], [40, 69, 25, 75, 8, 74], [40, 70, 25, 76, 8, 75], [36, 59, 22, 52, 5, 54]];
const goldA = [-36, 16, -26, 20, -2, 20];
for (let r = 0; r < 4; r++) {
  cycleChart(PC, r, cCaps[r], cCEs[r], blueRates[r], cGray[r], goldA);
  cycleChart(PD, r, dCaps[r], dCEs[r], greenRates[r], dGray[r], goldA);
}

// ---- text ----
const rateDyAB = [71, 71, 72, 71];
const rateDyC = [42, 49, 55, 62];
const rateDyD = [70, 44, 55, 54];
for (let r = 0; r < 4; r++) {
  addText(rates[r], PA.left + PA.width - 28, topsAB[r] + rateDyAB[r], 22, { bold: true });
  addText(rates[r], PB.left + PB.width - 28, topsAB[r] + rateDyAB[r], 22, { bold: true });
  addText(rates[r], PC.left + PC.width - 27, topsCD[r] + rateDyC[r], 22, { bold: true });
  addText(rates[r], PD.left + PD.width - 27, topsCD[r] + rateDyD[r], 22, { bold: true });
}
addText('(a)', 137, 37, 31);
addText('(b)', 769, 37, 31);
addText('(c)', 137, 1051, 31);
addText('(d)', 769, 1051, 31);

const capTitle = 'Capacity / mAh g<sub>S</sub><sup>-1</sup>';
addText('Voltage / V', 40, 222, 33, { rot: true });
addText('Voltage / V', 672, 222, 33, { rot: true });
addText(capTitle, 326, 531, 32);
addText(capTitle, 958, 531, 32);
const dcTitle = 'Discharge capacity / mAh g<sub>S</sub><sup>-1</sup>';
addText(dcTitle, 30, 846, 32, { rot: true });
addText(dcTitle, 663, 846, 32, { rot: true });
addText('Coulombic efficiency / %', 608, 816, 33, { rot: true, color: '#b4872a' });
addText('Coulombic efficiency / %', 1240, 816, 33, { rot: true, color: '#b4872a' });
addText('Cycle number', 338, 1127, 33);
addText('Cycle number', 970, 1127, 33);
</script>
</body>
</html>
